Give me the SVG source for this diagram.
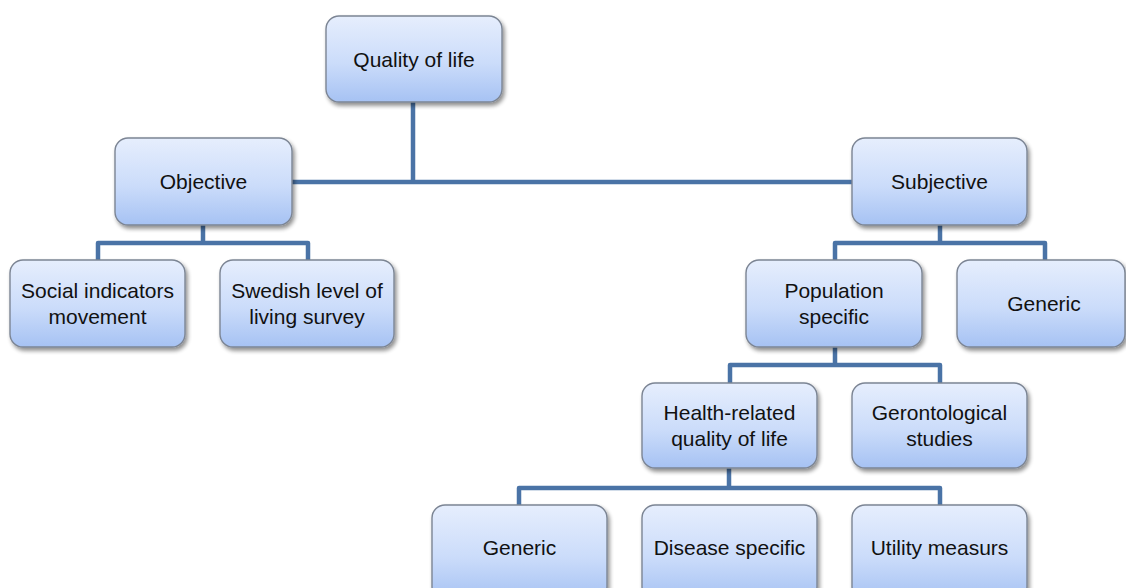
<svg xmlns="http://www.w3.org/2000/svg" width="1126" height="588" viewBox="0 0 1126 588">
  <defs>
    <linearGradient id="boxFill" x1="0" y1="0" x2="0" y2="1">
      <stop offset="0" stop-color="#e6eefd"/>
      <stop offset="0.55" stop-color="#cbdcfa"/>
      <stop offset="1" stop-color="#a6c2f3"/>
    </linearGradient>
    <filter id="shadow" x="-10%" y="-10%" width="125%" height="130%">
      <feGaussianBlur in="SourceAlpha" stdDeviation="2.2"/>
      <feOffset dx="1.5" dy="3" result="b"/>
      <feComponentTransfer><feFuncA type="linear" slope="0.45"/></feComponentTransfer>
      <feMerge><feMergeNode/><feMergeNode in="SourceGraphic"/></feMerge>
    </filter>
  </defs>
  <style>
    .box { fill: url(#boxFill); stroke: #7c8594; stroke-width: 1.4; filter: url(#shadow); }
    .lbl { font-family: "Liberation Sans", Arial, sans-serif; font-size: 21px; fill: #111111; text-anchor: middle; }
    .conn { fill: none; stroke: #4a73a6; stroke-width: 4.5; stroke-linejoin: round; }
  </style>
  <rect width="1126" height="588" fill="#ffffff"/>

  <!-- connectors -->
  <g id="connectors">
    <path class="conn" d="M413 102 V182 M292 182 H852"/>
    <path class="conn" d="M203 225 V243 M98 260 V243 H308 V260"/>
    <path class="conn" d="M940 225 V243 M835 260 V243 H1045 V260"/>
    <path class="conn" d="M835 347 V365 M730 383 V365 H940 V383"/>
    <path class="conn" d="M729 468 V488 M519 505 V488 H940 V505"/>
  </g>

  <g id="quality-of-life">
    <rect class="box" x="326" y="16" width="176" height="86" rx="13"/>
    <text class="lbl" x="414" y="67">Quality of life</text>
  </g>
  <g id="objective">
    <rect class="box" x="115" y="138" width="177" height="87" rx="13"/>
    <text class="lbl" x="203.5" y="189">Objective</text>
  </g>
  <g id="subjective">
    <rect class="box" x="852" y="138" width="175" height="87" rx="13"/>
    <text class="lbl" x="939.5" y="189">Subjective</text>
  </g>
  <g id="social-indicators">
    <rect class="box" x="10" y="260" width="175" height="87" rx="13"/>
    <text class="lbl" x="97.5" y="298">Social indicators</text>
    <text class="lbl" x="97.5" y="324">movement</text>
  </g>
  <g id="swedish-survey">
    <rect class="box" x="220" y="260" width="174" height="87" rx="13"/>
    <text class="lbl" x="307" y="298">Swedish level of</text>
    <text class="lbl" x="307" y="324">living survey</text>
  </g>
  <g id="population-specific">
    <rect class="box" x="746" y="260" width="176" height="87" rx="13"/>
    <text class="lbl" x="834" y="298">Population</text>
    <text class="lbl" x="834" y="324">specific</text>
  </g>
  <g id="generic-subjective">
    <rect class="box" x="957" y="260" width="168" height="87" rx="13"/>
    <text class="lbl" x="1044" y="311">Generic</text>
  </g>
  <g id="health-related">
    <rect class="box" x="642" y="383" width="175" height="85" rx="13"/>
    <text class="lbl" x="729.5" y="420">Health-related</text>
    <text class="lbl" x="729.5" y="446">quality of life</text>
  </g>
  <g id="gerontological">
    <rect class="box" x="852" y="383" width="175" height="85" rx="13"/>
    <text class="lbl" x="939.5" y="420">Gerontological</text>
    <text class="lbl" x="939.5" y="446">studies</text>
  </g>
  <g id="generic-hrqol">
    <rect class="box" x="432" y="505" width="175" height="95" rx="13"/>
    <text class="lbl" x="519.5" y="555">Generic</text>
  </g>
  <g id="disease-specific">
    <rect class="box" x="642" y="505" width="175" height="95" rx="13"/>
    <text class="lbl" x="729.5" y="555">Disease specific</text>
  </g>
  <g id="utility-measures">
    <rect class="box" x="852" y="505" width="175" height="95" rx="13"/>
    <text class="lbl" x="939.5" y="555">Utility measurs</text>
  </g>
</svg>
